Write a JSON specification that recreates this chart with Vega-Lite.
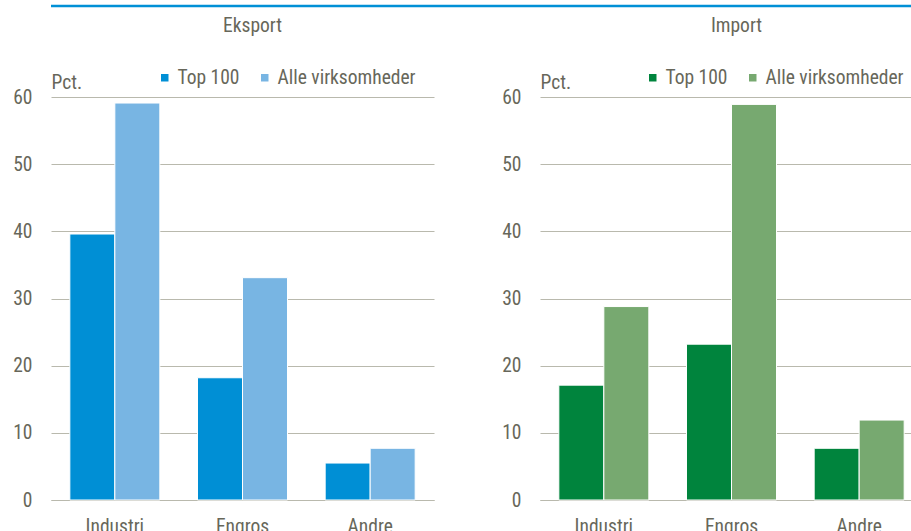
{
  "$schema": "https://vega.github.io/schema/vega-lite/v6.json",
  "padding": {"left": 12, "top": 4, "right": 0, "bottom": 0},
  "datasets": {
    "eksport": [
      {"sektor": "Industri", "gruppe": "Top 100", "pct": 39.6},
      {"sektor": "Industri", "gruppe": "Alle virksomheder", "pct": 59.1},
      {"sektor": "Engros", "gruppe": "Top 100", "pct": 18.2},
      {"sektor": "Engros", "gruppe": "Alle virksomheder", "pct": 33.1},
      {"sektor": "Andre", "gruppe": "Top 100", "pct": 5.5},
      {"sektor": "Andre", "gruppe": "Alle virksomheder", "pct": 7.7}
    ],
    "import": [
      {"sektor": "Industri", "gruppe": "Top 100", "pct": 17.1},
      {"sektor": "Industri", "gruppe": "Alle virksomheder", "pct": 28.8},
      {"sektor": "Engros", "gruppe": "Top 100", "pct": 23.2},
      {"sektor": "Engros", "gruppe": "Alle virksomheder", "pct": 58.9},
      {"sektor": "Andre", "gruppe": "Top 100", "pct": 7.7},
      {"sektor": "Andre", "gruppe": "Alle virksomheder", "pct": 11.9}
    ],
    "linje": [{"fra": 0, "til": 1}]
  },
  "vconcat": [
    {
      "width": 905,
      "height": 2,
      "data": {"name": "linje"},
      "mark": {"type": "rule", "color": "#0090d6", "strokeWidth": 2.5},
      "encoding": {
        "x": {"field": "fra", "type": "quantitative", "scale": {"domain": [0, 1]}, "axis": null},
        "x2": {"field": "til"}
      }
    },
    {
      "hconcat": [
        {
          "width": 383,
          "height": 403,
          "title": {"text": "Eksport", "dx": 10},
          "data": {"name": "eksport"},
          "mark": {"type": "bar", "stroke": "white", "strokeWidth": 1},
          "encoding": {
            "x": {
              "field": "sektor", "type": "nominal",
              "sort": ["Industri", "Engros", "Andre"],
              "scale": {"paddingInner": 0.295, "paddingOuter": 0.1475},
              "axis": {"title": null}
            },
            "xOffset": {"field": "gruppe", "sort": ["Top 100", "Alle virksomheder"]},
            "y": {
              "field": "pct", "type": "quantitative",
              "scale": {"domain": [0, 60]},
              "axis": {"title": "Pct.", "values": [0, 10, 20, 30, 40, 50, 60]}
            },
            "color": {
              "field": "gruppe", "type": "nominal",
              "scale": {"domain": ["Top 100", "Alle virksomheder"], "range": ["#008fd5", "#78b5e3"]},
              "legend": {"title": null, "orient": "none", "legendX": 104, "legendY": -29.5, "direction": "horizontal"}
            }
          }
        },
        {
          "width": 383,
          "height": 403,
          "title": {"text": "Import", "dx": 5},
          "data": {"name": "import"},
          "mark": {"type": "bar", "stroke": "white", "strokeWidth": 1},
          "encoding": {
            "x": {
              "field": "sektor", "type": "nominal",
              "sort": ["Industri", "Engros", "Andre"],
              "scale": {"paddingInner": 0.295, "paddingOuter": 0.1475},
              "axis": {"title": null}
            },
            "xOffset": {"field": "gruppe", "sort": ["Top 100", "Alle virksomheder"]},
            "y": {
              "field": "pct", "type": "quantitative",
              "scale": {"domain": [0, 60]},
              "axis": {"title": "Pct.", "values": [0, 10, 20, 30, 40, 50, 60]}
            },
            "color": {
              "field": "gruppe", "type": "nominal",
              "scale": {"domain": ["Top 100", "Alle virksomheder"], "range": ["#00843d", "#77a970"]},
              "legend": {"title": null, "orient": "none", "legendX": 103, "legendY": -29.5, "direction": "horizontal"}
            }
          }
        }
      ],
      "spacing": 67,
      "resolve": {"scale": {"color": "independent"}}
    }
  ],
  "spacing": 7,
  "config": {
    "font": "Liberation Sans Narrow, Roboto Condensed, Liberation Sans, sans-serif",
    "view": {"stroke": null},
    "title": {"fontSize": 19.5, "fontWeight": "normal", "color": "#67675a", "baseline": "alphabetic", "offset": 31.5, "anchor": "middle"},
    "axis": {
      "labelFont": "Liberation Sans Narrow, Roboto Condensed, Liberation Sans, sans-serif",
      "labelFontSize": 19.5,
      "labelColor": "#67675a",
      "ticks": false,
      "gridColor": "#b9b9ad",
      "gridWidth": 1,
      "domainColor": "#b9b9ad"
    },
    "axisX": {"labelAngle": 0, "labelPadding": 17, "domain": true},
    "axisY": {
      "domain": false,
      "labelPadding": 19,
      "titleAngle": 0,
      "titleX": 0,
      "titleY": -9,
      "titleAlign": "left",
      "titleBaseline": "alphabetic",
      "titleFontSize": 19.5,
      "titleFontWeight": "normal",
      "titleColor": "#67675a",
      "titleFont": "Liberation Sans Narrow, Roboto Condensed, Liberation Sans, sans-serif"
    },
    "legend": {
      "symbolType": "square",
      "symbolSize": 81,
      "labelFontSize": 19.5,
      "labelColor": "#67675a",
      "labelOffset": 3,
      "columnPadding": 15,
      "padding": 0,
      "labelFont": "Liberation Sans Narrow, Roboto Condensed, Liberation Sans, sans-serif"
    }
  }
}
